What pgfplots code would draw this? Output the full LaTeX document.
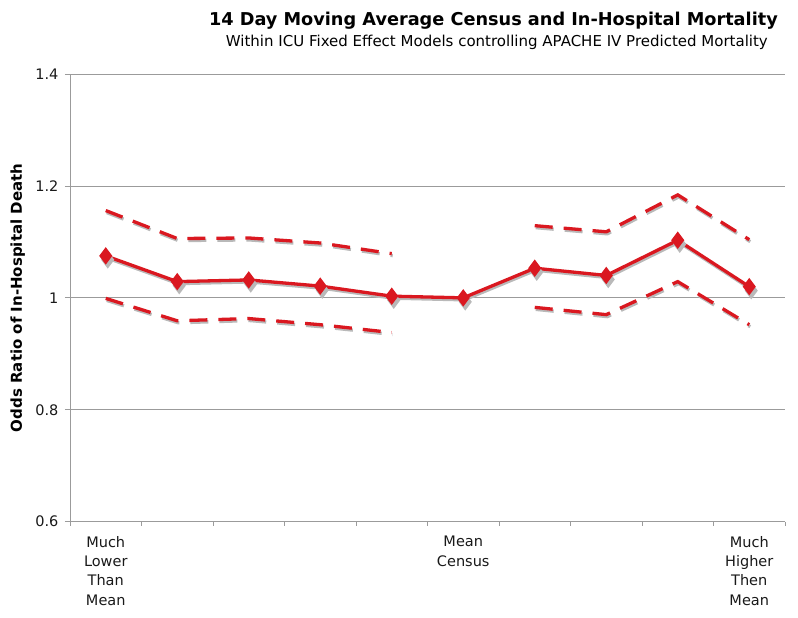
\documentclass[border=0pt]{standalone}
\usepackage{fontspec}
\setmainfont{DejaVu Sans}
\usepackage{pgfplots}
\pgfplotsset{compat=1.18}
\definecolor{lred}{RGB}{218,24,32}
\definecolor{shadowgray}{RGB}{185,185,185}
\definecolor{gridc}{RGB}{155,155,155}
\begin{document}
\begin{tikzpicture}
\useasboundingbox (-70pt,-96.3pt) rectangle (728pt,521.7pt);
\begin{axis}[
  at={(0pt,0pt)}, anchor=south west,
  scale only axis, width=715pt, height=447.7pt,
  xmin=-0.5, xmax=9.5, ymin=0.6, ymax=1.4,
  axis lines*=left,
  axis line style={gridc, line width=0.8pt},
  ytick={0.6,0.8,1,1.2,1.4},
  yticklabels={0.6,0.8,1,1.2,1.4},
  ymajorgrids,
  major grid style={gridc, line width=0.8pt},
  tick align=outside,
  major tick length=5pt,
  minor tick length=4pt,
  tick style={gridc, line width=0.8pt},
  xtick={0,5,9},
  xticklabels={Much\\Lower\\Than\\Mean, Mean\\Census, Much\\Higher\\Then\\Mean},
  major x tick style={draw=none},
  minor xtick={-0.5,0.5,1.5,2.5,3.5,4.5,5.5,6.5,7.5,8.5,9.5},
  /pgf/number format/assume math mode=true,
  ticklabel style={font=\fontsize{14.5}{19.3}\selectfont, text=black!90},
  xticklabel style={align=center, yshift=-6pt},
  yticklabel style={xshift=-3pt},
  ylabel={Odds Ratio of In-Hospital Death},
  ylabel style={font=\bfseries\fontsize{15}{17}\selectfont, at={(axis description cs:-0.073,0.5)}, anchor=center, rotate=0},
  unbounded coords=jump,
  clip=false,
]
% shadows
\addplot[draw=shadowgray, line width=3.3pt, dash pattern=on 18pt off 11pt, transform canvas={xshift=1pt,yshift=-2pt}] coordinates {
 (0,1.156)(1,1.106)(2,1.107)(3,1.098)(4,1.079)(5,nan)(6,1.129)(7,1.118)(8,1.184)(9,1.104)};
\addplot[draw=shadowgray, line width=3.3pt, dash pattern=on 18pt off 11pt, transform canvas={xshift=1pt,yshift=-2pt}] coordinates {
 (0,0.999)(1,0.959)(2,0.963)(3,0.952)(4,0.938)(5,nan)(6,0.983)(7,0.970)(8,1.029)(9,0.952)};
\addplot[draw=shadowgray, line width=3.3pt, mark=diamond*, mark size=6pt, mark options={solid, draw=shadowgray, fill=shadowgray}, transform canvas={xshift=1pt,yshift=-2pt}] coordinates {
 (0,1.075)(1,1.029)(2,1.032)(3,1.021)(4,1.003)(5,1.000)(6,1.053)(7,1.040)(8,1.103)(9,1.020)};
% lines
\addplot[draw=lred, line width=3.3pt, dash pattern=on 18pt off 11pt] coordinates {
 (0,1.156)(1,1.106)(2,1.107)(3,1.098)(4,1.079)(5,nan)(6,1.129)(7,1.118)(8,1.184)(9,1.104)};
\addplot[draw=lred, line width=3.3pt, dash pattern=on 18pt off 11pt] coordinates {
 (0,0.999)(1,0.959)(2,0.963)(3,0.952)(4,0.938)(5,nan)(6,0.983)(7,0.970)(8,1.029)(9,0.952)};
\addplot[draw=lred, line width=3.3pt, mark=diamond*, mark size=6pt, mark options={solid, draw=lred, fill=lred}] coordinates {
 (0,1.075)(1,1.029)(2,1.032)(3,1.021)(4,1.003)(5,1.000)(6,1.053)(7,1.040)(8,1.103)(9,1.020)};
\end{axis}
\node[anchor=base east, inner sep=0pt, font=\bfseries\fontsize{17.7}{20}\selectfont] at (708pt,495.7pt) {14 Day Moving Average Census and In-Hospital Mortality};
\node[anchor=base east, inner sep=0pt, font=\fontsize{15}{17}\selectfont] at (698pt,475pt) {Within ICU Fixed Effect Models controlling APACHE IV Predicted Mortality};
\end{tikzpicture}
\end{document}
